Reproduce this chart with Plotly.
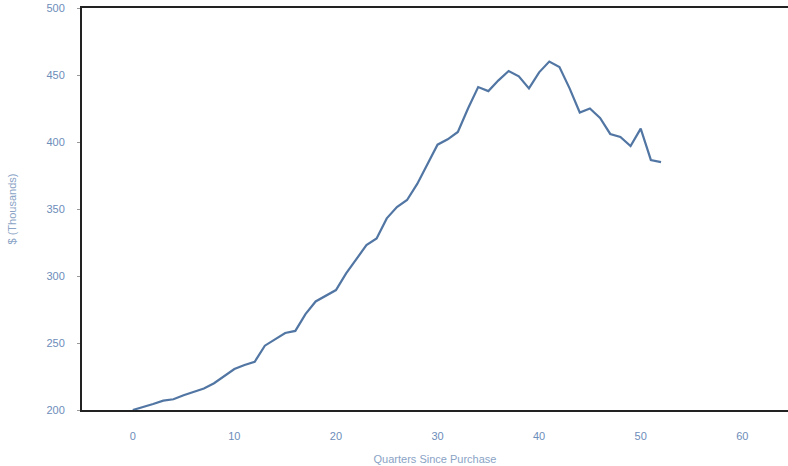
import plotly.graph_objects as go

quarters = list(range(0, 53))
values = [200, 202, 204.5, 207, 208, 211, 213.5, 216, 220, 225,
          230.6, 233.6, 236, 248, 253, 257.5, 259, 271.6, 281, 285,
          289.5, 302, 312.7, 323, 328, 343, 351.5, 356.7, 368.7, 383,
          398, 402, 407.5, 425, 441, 438, 446, 453, 449, 440,
          452, 460, 456, 440, 422, 425, 418, 406, 403.7, 397,
          410, 386.6, 385]
x_ticks = [0, 10, 20, 30, 40, 50, 60]
y_ticks = [200, 250, 300, 350, 400, 450, 500]

fig = go.Figure()
fig.add_trace(go.Scatter(x=quarters, y=values, mode="lines",
                         line=dict(color="#5276a3", width=2.2),
                         showlegend=False))

fig.update_layout(
    width=788, height=466,
    margin=dict(l=82, r=0, t=8, b=56),
    paper_bgcolor="white", plot_bgcolor="white",
    font=dict(family="Liberation Sans", size=11, color="#6d8dba"),
)
fig.update_xaxes(range=[-5, 64.5], tickvals=x_ticks, showgrid=False, zeroline=False,
                 showline=True, linecolor="#222222", linewidth=2, mirror=True,
                 ticks="", ticklabelstandoff=15, automargin=False,
                 title=dict(text="Quarters Since Purchase", font=dict(size=11, color="#8aa3c6"), standoff=14))
fig.update_yaxes(range=[200, 500], tickvals=y_ticks, showgrid=False, zeroline=False,
                 showline=True, linecolor="#222222", linewidth=2, mirror=False,
                 ticks="outside", ticklen=3, tickcolor="#999999", ticklabelstandoff=10,
                 automargin=False,
                 title=dict(text="$ (Thousands)", font=dict(size=11, color="#8aa3c6"), standoff=28))

fig.write_html("out.html", config={"displayModeBar": False},
               post_script="document.body.style.margin='0';document.body.style.overflow='hidden';")
